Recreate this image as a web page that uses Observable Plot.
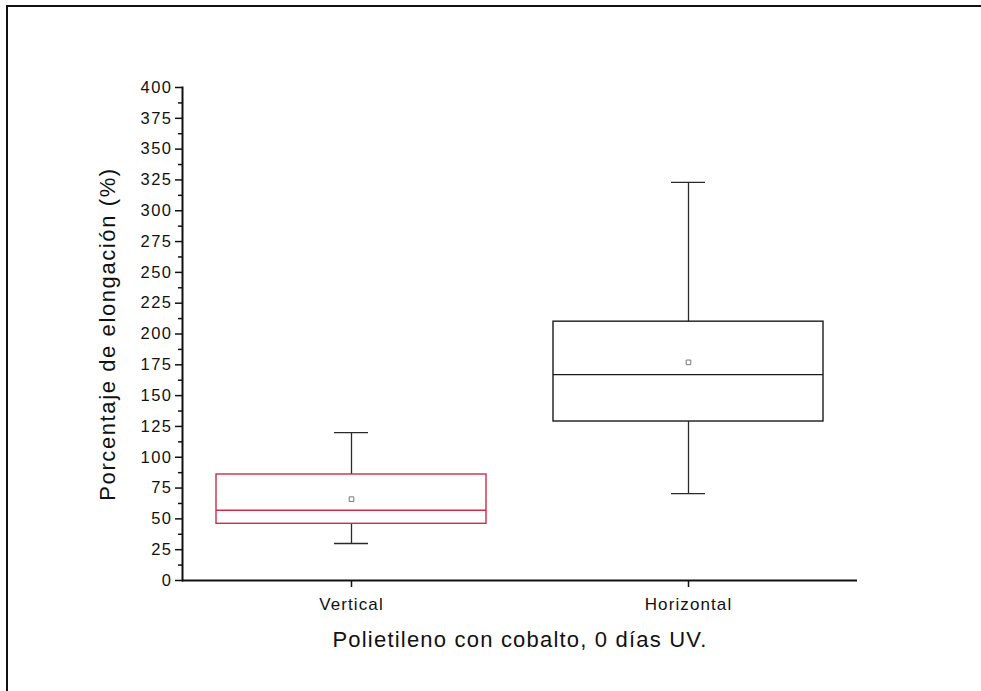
<!DOCTYPE html>
<html><head><meta charset="utf-8">
<script src="https://cdn.jsdelivr.net/npm/d3@7"></script>
<script src="https://cdn.jsdelivr.net/npm/@observablehq/plot@0.6"></script>
<style>
body{margin:0;background:#fff;}
#wrap{position:relative;width:981px;height:691px;overflow:hidden;background:#fff;}
#frame{position:absolute;left:6px;top:5px;right:-10px;bottom:-10px;border-top:2px solid #111;border-left:2px solid #111;}
#chart{position:absolute;left:0;top:0;}
#chart g[aria-label="y-axis tick label"] text{letter-spacing:1.5px;}
#chart g[aria-label="x-axis tick label"] text{letter-spacing:1.1px;}
#chart g.xtitle text{letter-spacing:1.2px;}
#chart g.ytitle text{letter-spacing:1.6px;}
</style></head><body>
<div id="wrap"><div id="frame"></div><div id="chart"></div></div>
<script>
const categories = ["Vertical", "Horizontal"];
const lowerWhisker = [30, 70.5];
const q1 = [46, 129];
const median = [57, 167];
const q3 = [86, 210];
const upperWhisker = [120, 323];
const mean = [66, 177];
const yTicks = d3.range(0, 401, 25);
const yMinorTicks = d3.range(12.5, 400, 25);
const xTitle = "Polietileno con cobalto, 0 días UV.";
const yTitle = "Porcentaje de elongación (%)";

const data = categories.map((c, i) => ({
  category: c, lo: lowerWhisker[i], q1: q1[i], median: median[i],
  q3: q3[i], hi: upperWhisker[i], mean: mean[i]
}));

const font = "Arial, 'Liberation Sans', sans-serif";
const plot = Plot.plot({
  width: 981, height: 691,
  marginLeft: 182, marginRight: 124, marginTop: 87, marginBottom: 111,
  style: {fontFamily: font, fontSize: "16px", color: "#111", background: "transparent"},
  x: {type: "band", domain: categories, paddingInner: 0.2, paddingOuter: 0.1, label: null, axis: null},
  y: {domain: [0, 400], label: null, axis: null},
  color: {domain: categories, range: ["#d02a48", "#1a1a1a"]},
  marks: [
    Plot.ruleX(data, {x: "category", y1: "lo", y2: "q1", stroke: "#2a2a2a", strokeWidth: 1.3}),
    Plot.ruleX(data, {x: "category", y1: "q3", y2: "hi", stroke: "#2a2a2a", strokeWidth: 1.3}),
    Plot.tickY(data, {x: "category", y: "lo", insetLeft: 118, insetRight: 118, stroke: "#2a2a2a", strokeWidth: 1.4}),
    Plot.tickY(data, {x: "category", y: "hi", insetLeft: 118, insetRight: 118, stroke: "#2a2a2a", strokeWidth: 1.4}),
    Plot.barY(data, {x: "category", y1: "q1", y2: "q3", fill: "none", stroke: "category", strokeWidth: 1.4}),
    Plot.tickY(data, {x: "category", y: "median", stroke: "category", strokeWidth: 1.4}),
    Plot.dot(data, {x: "category", y: "mean", symbol: "square", r: 2.6, stroke: "#777", strokeWidth: 1, fill: "white"}),
    Plot.axisY({ticks: yTicks, tickSize: 7, tickPadding: 3, fontSize: 16.5, label: null, stroke: "#111", strokeWidth: 1.5}),
    Plot.axisY({ticks: yMinorTicks, tickSize: 4, tickFormat: () => "", label: null, stroke: "#111", strokeWidth: 1.5}),
    Plot.axisX({tickSize: 7, tickPadding: 10, fontSize: 17, label: null, stroke: "#111", strokeWidth: 1.5}),
    Plot.ruleY([0], {stroke: "#111", strokeWidth: 2}),
    Plot.frame({anchor: "left", stroke: "#111", strokeWidth: 2}),
    Plot.text([yTitle], {text: d => d, frameAnchor: "left", textAnchor: "middle", rotate: -90, dx: -75, fontSize: 22, fill: "#111", className: "ytitle"}),
    Plot.text([xTitle], {text: d => d, frameAnchor: "bottom", textAnchor: "middle", dy: 66, fontSize: 22, fill: "#111", className: "xtitle"})
  ]
});
document.getElementById("chart").appendChild(plot);
</script>
</body></html>
